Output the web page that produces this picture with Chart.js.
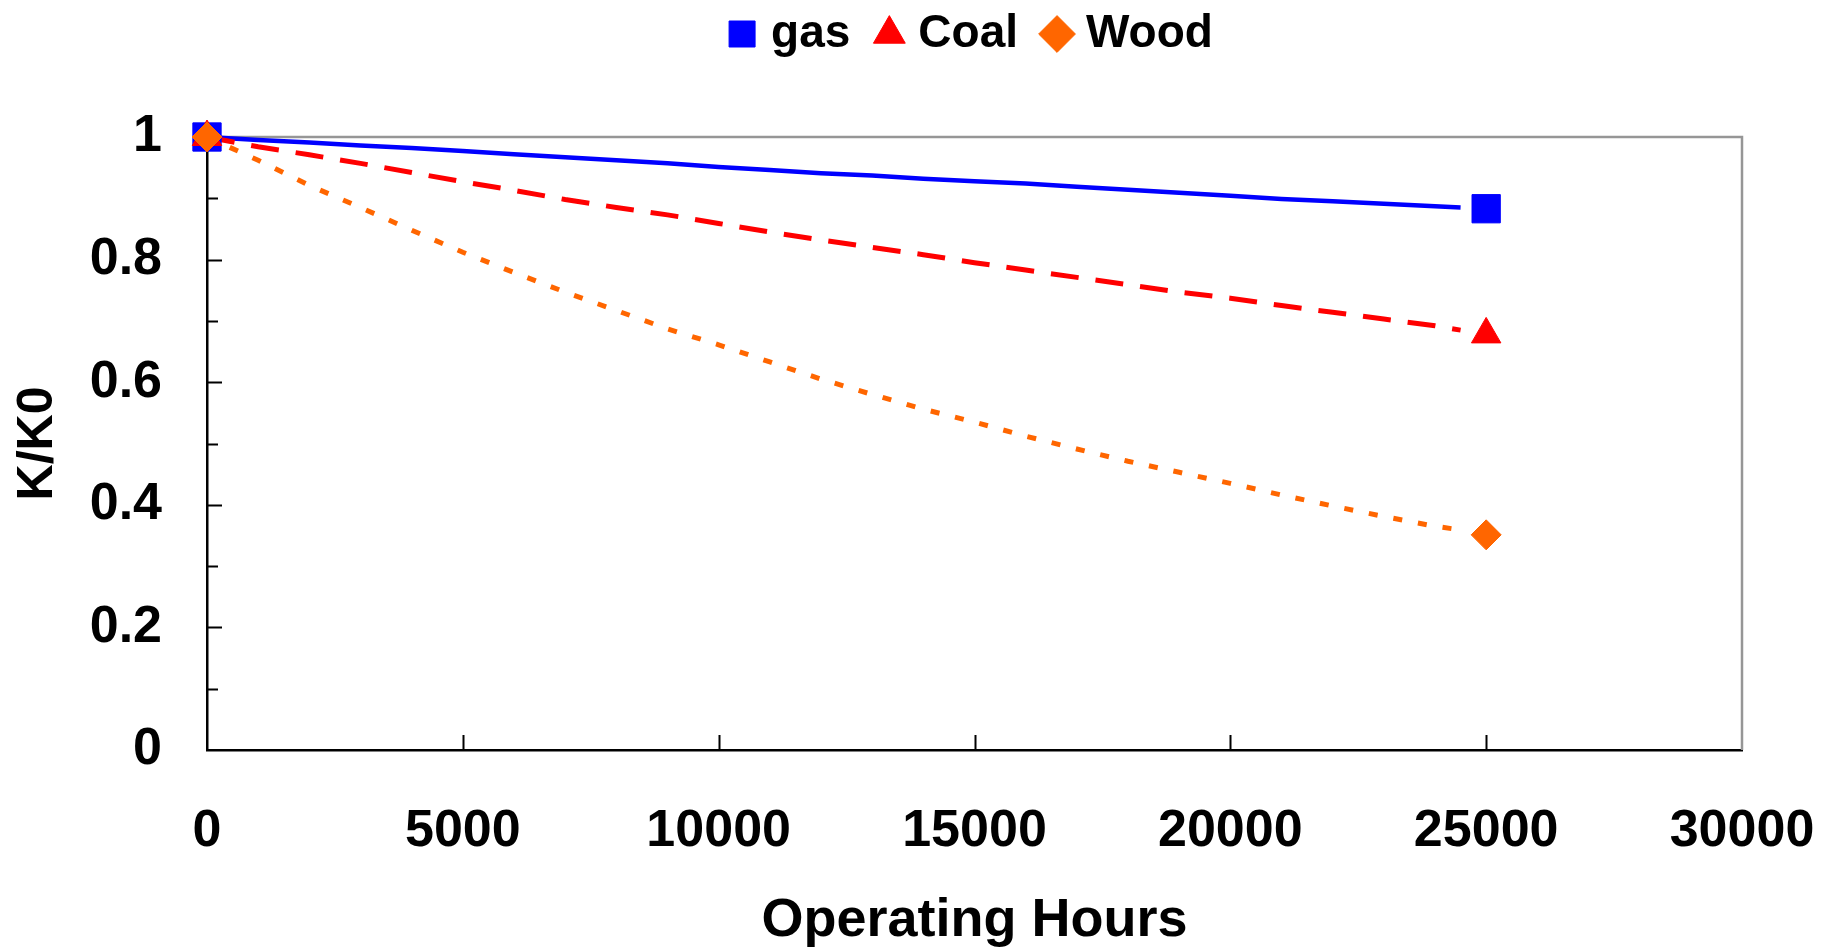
<!DOCTYPE html>
<html>
<head>
<meta charset="utf-8">
<title>K/K0 vs Operating Hours</title>
<script src="https://cdn.jsdelivr.net/npm/chart.js@4/dist/chart.umd.min.js"></script>
<style>
  html, body { margin: 0; padding: 0; background: #ffffff; }
  #wrap { width: 1823px; height: 947px; }
</style>
</head>
<body>
<div id="wrap"><canvas id="chart" width="1823" height="947"></canvas></div>
<script>
// Operating hours at which the fitted curves are sampled
const hours = [0, 1000, 2000, 3000, 4000, 5000, 6000, 7000, 8000, 9000, 10000,
  11000, 12000, 13000, 14000, 15000, 16000, 17000, 18000, 19000, 20000,
  21000, 22000, 23000, 24000, 24500];

// Relative value K/K0 along each curve
const gasK = [1.000, 0.995, 0.991, 0.986, 0.982, 0.977, 0.972, 0.967, 0.962, 0.957, 0.951,
  0.946, 0.941, 0.937, 0.932, 0.928, 0.924, 0.919, 0.914, 0.909, 0.904,
  0.899, 0.895, 0.891, 0.887, 0.885];
const coalK = [1.000, 0.984, 0.971, 0.957, 0.942, 0.927, 0.913, 0.898, 0.885, 0.873, 0.859,
  0.845, 0.832, 0.820, 0.808, 0.795, 0.783, 0.771, 0.759, 0.747, 0.737,
  0.725, 0.714, 0.703, 0.692, 0.685];
const woodK = [1.000, 0.962, 0.921, 0.885, 0.848, 0.812, 0.779, 0.747, 0.717, 0.687, 0.661,
  0.633, 0.605, 0.580, 0.556, 0.535, 0.512, 0.491, 0.471, 0.453, 0.435,
  0.416, 0.398, 0.381, 0.365, 0.359];

// Measured points (start and end of the run)
const markerHours = [0, 25000];
const gasPoints = [1.0, 0.883];
const coalPoints = [1.0, 0.678];
const woodPoints = [1.0, 0.351];

// Series names and axis tick labels
const seriesNames = ['gas', 'Coal', 'Wood'];
const xTickLabels = ['0', '5000', '10000', '15000', '20000', '25000', '30000'];
const yTickLabels = ['0', '0.2', '0.4', '0.6', '0.8', '1'];

const toXY = (xs, ys) => xs.map((x, i) => ({ x: x, y: ys[i] }));

const BLUE = '#0000FF', RED = '#FF0000', ORANGE = '#FF6600';
const FONT = '"Liberation Sans", Arial, Helvetica, sans-serif';
const LEGEND_FONT = 46;
const LEGEND_TEXT_CENTER = 34;

Chart.defaults.font.family = FONT;
Chart.defaults.color = '#000000';

// Plot frame (grey top/right edges), inward tick marks and legend placement
const frameAndTicks = {
  id: 'frameAndTicks',
  afterLayout(chart) {
    const lg = chart.legend;
    if (!lg) return;
    const pad = lg.options.labels.padding;
    const h = lg.height;
    lg.top = LEGEND_TEXT_CENTER - pad - LEGEND_FONT / 2;
    lg.bottom = lg.top + h;
  },
  beforeDatasetsDraw(chart) {
    const { ctx, chartArea: a, scales } = chart;
    const x = scales.x, y = scales.y;
    ctx.save();
    ctx.strokeStyle = '#969696';
    ctx.lineWidth = 2.5;
    ctx.beginPath();
    ctx.moveTo(a.left, a.top);
    ctx.lineTo(a.right, a.top);
    ctx.lineTo(a.right, a.bottom);
    ctx.stroke();

    ctx.strokeStyle = '#000000';
    ctx.lineWidth = 2;
    ctx.beginPath();
    for (let i = 1; i < 10; i++) {
      const py = Math.round(y.getPixelForValue(i / 10)) + 0.5;
      const len = (i % 2 === 0) ? 15 : 11;
      ctx.moveTo(a.left, py);
      ctx.lineTo(a.left + len, py);
    }
    for (let v = 5000; v < 30000; v += 5000) {
      const px = Math.round(x.getPixelForValue(v)) + 0.5;
      ctx.moveTo(px, a.bottom);
      ctx.lineTo(px, a.bottom - 15);
    }
    ctx.stroke();
    ctx.restore();
  }
};

const markerSet = (label, pts, color, style, radius, order) => ({
  label: label,
  data: toXY(markerHours, pts),
  showLine: false,
  pointStyle: style,
  pointRadius: radius,
  pointHoverRadius: radius,
  pointBackgroundColor: color,
  pointBorderColor: color,
  backgroundColor: color,
  borderColor: color,
  borderWidth: 1,
  pointBorderWidth: 1,
  clip: false,
  order: order
});

const curveSet = (vals, color, width, dash, order) => ({
  label: '',
  data: toXY(hours, vals),
  borderColor: color,
  backgroundColor: color,
  borderWidth: width,
  borderDash: dash,
  borderCapStyle: 'butt',
  pointRadius: 0,
  pointHoverRadius: 0,
  tension: 0,
  fill: false,
  clip: false,
  order: order
});

new Chart(document.getElementById('chart'), {
  type: 'line',
  data: {
    datasets: [
      markerSet(seriesNames[0], gasPoints, BLUE, 'rect', 20, 2),
      markerSet(seriesNames[1], coalPoints, RED, 'triangle', 17, 1),
      markerSet(seriesNames[2], woodPoints, ORANGE, 'rectRot', 15, 0),
      curveSet(gasK, BLUE, 4.5, [], 5),
      curveSet(coalK, RED, 5, [28, 17], 4),
      curveSet(woodK, ORANGE, 5, [9, 16], 3)
    ]
  },
  options: {
    responsive: false,
    animation: false,
    events: [],
    layout: { padding: { left: 0, right: 81, top: 48, bottom: 0 } },
    plugins: {
      tooltip: { enabled: false },
      legend: {
        display: true,
        position: 'top',
        align: 'center',
        fullSize: false,
        labels: {
          usePointStyle: true,
          boxWidth: 12,
          boxHeight: 26,
          padding: 33,
          color: '#000000',
          font: { family: FONT, size: LEGEND_FONT, weight: 'bold' },
          filter: (item) => item.text !== '',
          sort: (a, b) => a.datasetIndex - b.datasetIndex
        }
      }
    },
    scales: {
      x: {
        type: 'linear',
        min: 0,
        max: 30000,
        offset: false,
        afterFit: (s) => { s.height = 197; },
        grid: { display: false, drawTicks: true, tickLength: 50, drawOnChartArea: false },
        border: { display: true, color: '#000000', width: 2.5 },
        ticks: {
          stepSize: 5000,
          autoSkip: false,
          maxRotation: 0,
          padding: 0,
          color: '#000000',
          font: { family: FONT, size: 52, weight: 'bold' },
          callback: (v, i) => xTickLabels[i]
        },
        title: {
          display: true,
          text: 'Operating Hours',
          color: '#000000',
          font: { family: FONT, size: 54, weight: 'bold', lineHeight: 0.963 },
          padding: { top: 0, bottom: 0 }
        }
      },
      y: {
        type: 'linear',
        min: 0,
        max: 1,
        afterFit: (s) => { s.width = 207; },
        grid: { display: false, drawTicks: false, drawOnChartArea: false },
        border: { display: true, color: '#000000', width: 2.5 },
        ticks: {
          stepSize: 0.2,
          padding: 45,
          color: '#000000',
          font: { family: FONT, size: 52, weight: 'bold' },
          callback: (v, i) => yTickLabels[i]
        },
        title: {
          display: true,
          text: 'K/K0',
          color: '#000000',
          font: { family: FONT, size: 50, weight: 'bold', lineHeight: 1.2 },
          padding: { top: 8, bottom: 0 }
        }
      }
    }
  },
  plugins: [frameAndTicks]
});
</script>
</body>
</html>
